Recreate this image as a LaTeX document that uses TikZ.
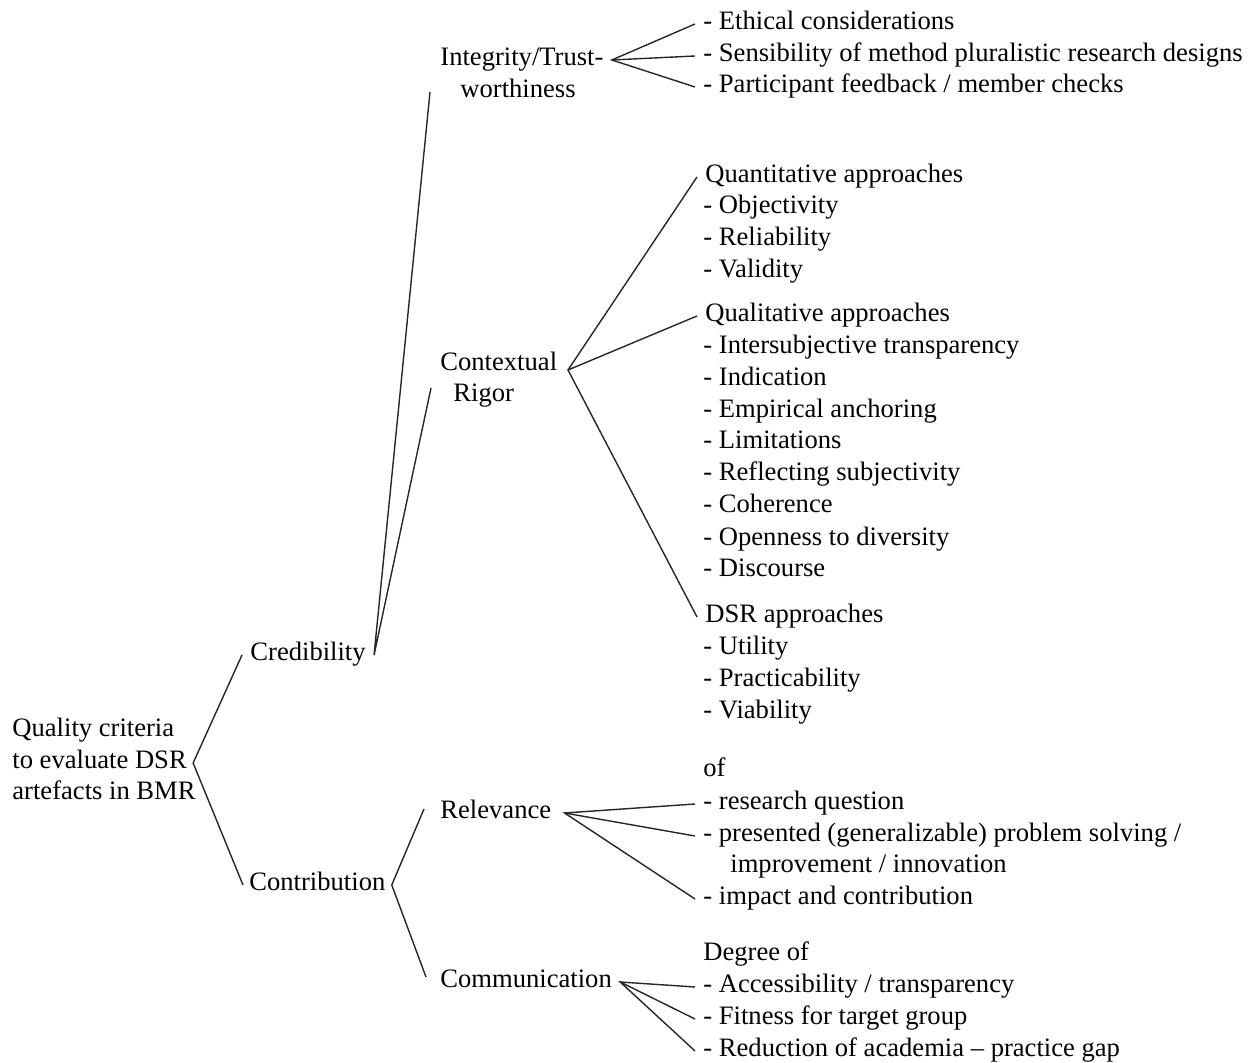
\documentclass[tikz,border=0pt]{standalone}
\usepackage{fontspec}
\setmainfont{Liberation Serif}
\usetikzlibrary{calc}
\begin{document}
\begin{tikzpicture}[x=0.5pt,y=-0.5pt,
  lbl/.style={anchor=base west, inner xsep=4pt, inner ysep=1pt, text height=9pt, text depth=3pt, font=\fontsize{13.3pt}{16pt}\selectfont},
  conn/.style={line width=0.7pt, black!85}]
\useasboundingbox (0,0) rectangle (1255,1063);
\begin{scope}[yshift=-1pt]
% root
\node[lbl] (q1) at (4,735) {Quality criteria};
\node[lbl, inner xsep=3pt] (q2) at (6,767) {to evaluate DSR};
\node[lbl] (q3) at (4,798) {artefacts in BMR};
% level 1
\node[lbl] (cred) at (242,659) {Credibility};
\node[lbl, inner xsep=3pt] (contrib) at (243,889) {Contribution};
% level 2
\node[lbl] (int1) at (432,64) {Integrity/Trust-};
\node[lbl] (int2) at (452,96) {worthiness};
\node[lbl] (ctx1) at (432,369) {Contextual};
\node[lbl] (ctx2) at (445,400) {Rigor};
\node[lbl, inner xsep=6.5pt] (rel) at (427,817) {Relevance};
\node[lbl] (com) at (432,986) {Communication};
% level 3
\node[lbl] (e1) at (695,28) {- Ethical considerations};
\node[lbl] (e2) at (695,60) {- Sensibility of method pluralistic research designs};
\node[lbl] (e3) at (695,91) {- Participant feedback / member checks};
\node[lbl] (qa0) at (697,181) {Quantitative approaches};
\node[lbl] (qa1) at (695,212) {- Objectivity};
\node[lbl] (qa2) at (695,244) {- Reliability};
\node[lbl] (qa3) at (695,276) {- Validity};
\node[lbl] (ql0) at (697,320) {Qualitative approaches};
\node[lbl] (ql1) at (695,352) {- Intersubjective transparency};
\node[lbl] (ql2) at (695,384) {- Indication};
\node[lbl] (ql3) at (695,416) {- Empirical anchoring};
\node[lbl] (ql4) at (695,447) {- Limitations};
\node[lbl] (ql5) at (695,479) {- Reflecting subjectivity};
\node[lbl] (ql6) at (695,511) {- Coherence};
\node[lbl] (ql7) at (695,544) {- Openness to diversity};
\node[lbl] (ql8) at (695,575) {- Discourse};
\node[lbl] (ds0) at (697,621) {DSR approaches};
\node[lbl] (ds1) at (695,653) {- Utility};
\node[lbl] (ds2) at (695,685) {- Practicability};
\node[lbl] (ds3) at (695,717) {- Viability};
\node[lbl] (rv0) at (695,775) {of};
\node[lbl] (rv1) at (695,808) {- research question};
\node[lbl] (rv2) at (695,840) {- presented (generalizable) problem solving /};
\node[lbl] (rv3) at (722,871) {improvement / innovation};
\node[lbl] (rv4) at (695,903) {- impact and contribution};
\node[lbl] (cm0) at (695,959) {Degree of};
\node[lbl] (cm1) at (695,991) {- Accessibility / transparency};
\node[lbl] (cm2) at (695,1023) {- Fitness for target group};
\node[lbl] (cm3) at (695,1055) {- Reduction of academia – practice gap};
\end{scope}
% junction points
\coordinate (intEnd) at (430,92);
\coordinate (ctxEnd) at (431,388);
\coordinate (ctxHub) at (568,370);
\coordinate (relEnd) at (424,809);
\coordinate (comEnd) at (426,977);
% connectors
\draw[conn] (cred.west) -- (q2.east) -- (contrib.west);
\draw[conn] (intEnd) -- (cred.east) -- (ctxEnd);
\draw[conn] (e1.west) -- (int1.east) -- (e3.west);
\draw[conn] (int1.east) -- (e2.west);
\draw[conn] (qa0.west) -- (ctxHub) -- (ds0.west);
\draw[conn] (ctxHub) -- (ql0.west);
\draw[conn] (relEnd) -- (contrib.east) -- (comEnd);
\draw[conn] (rv1.west) -- (rel.east) -- (rv4.west);
\draw[conn] (rel.east) -- (rv2.west);
\draw[conn] (cm1.west) -- (com.east) -- (cm3.west);
\draw[conn] (com.east) -- (cm2.west);
\end{tikzpicture}
\end{document}
